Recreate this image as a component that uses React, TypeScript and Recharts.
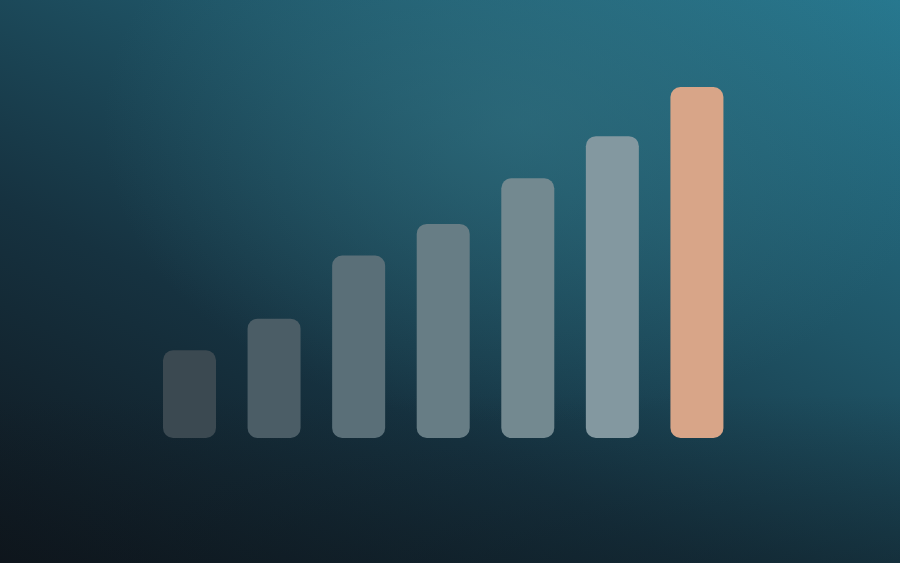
import { useEffect } from "react";
import { BarChart, Bar, Cell, XAxis, YAxis } from "recharts";

const categories = ["1", "2", "3", "4", "5", "6", "7"];
const values = [25, 34, 52, 61, 74, 86, 100];
const barColors = ["#3b4951", "#4b5d66", "#5a6f78", "#677d85", "#738990", "#8398a0", "#d8a588"];

const data = categories.map((name, i) => ({ name, value: values[i] }));

export default function App() {
  useEffect(() => {
    document.body.style.margin = "0";
  }, []);

  return (
    <div
      style={{
        width: 900,
        height: 563,
        background: [
          "radial-gradient(ellipse 420px 300px at 58% 22%, rgba(55,120,135,0.45), rgba(55,120,135,0) 100%)",
          "linear-gradient(to top, rgba(12,20,26,0.35) 0%, rgba(12,20,26,0) 30%)",
          "linear-gradient(28deg, #0f161d 0%, #163240 35%, #1f5567 65%, #27788f 100%)",
        ].join(", "),
      }}
    >
      <BarChart
        width={900}
        height={563}
        data={data}
        margin={{ top: 87, right: 161, bottom: 125, left: 147 }}
        barSize={53}
      >
        <XAxis dataKey="name" hide />
        <YAxis domain={[0, 100]} hide />
        <Bar dataKey="value" radius={10} isAnimationActive={false}>
          {data.map((d, i) => (
            <Cell key={d.name} fill={barColors[i]} />
          ))}
        </Bar>
      </BarChart>
    </div>
  );
}
